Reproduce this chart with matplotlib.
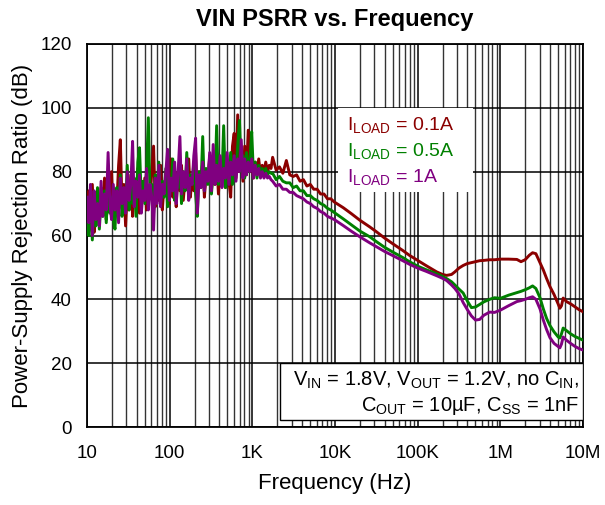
import matplotlib
matplotlib.use("Agg")
import matplotlib.pyplot as plt
from matplotlib.ticker import LogLocator, FixedLocator, NullFormatter, FixedFormatter
from matplotlib.patches import Rectangle

plt.rcParams['font.family'] = ['Liberation Sans', 'DejaVu Sans']
plt.rcParams['mathtext.fontset'] = 'custom'
plt.rcParams['mathtext.rm'] = 'Liberation Sans'
plt.rcParams['mathtext.it'] = 'Liberation Sans'

# ---- data ----
# low-frequency (noisy) region, Hz
freq_low = [10, 10.5, 11.0, 11.6, 12.2, 12.8, 13.4, 14.1, 14.8, 15.5, 16.3, 17.1, 18.0, 18.9, 19.8,
            20.8, 21.8, 22.9, 24.1, 25.3, 26.5, 27.9, 29.3, 30.7, 32.3, 33.9, 35.6, 37.3, 39.2, 41.2,
            43.2, 45.4, 47.6, 50.0, 52.5, 55.2, 57.9, 60.8, 63.9, 67.0, 70.4, 73.9, 77.6, 81.5, 85.6,
            89.9, 94.4, 99.1, 104, 109, 115, 120, 126, 133, 139, 146, 154, 161, 170, 178,
            187, 196, 206, 216, 227, 239, 251, 263, 276, 290, 305, 320, 336, 353, 370,
            389, 408, 429, 450, 473, 496, 521, 547, 575, 603, 634, 665, 699, 734, 770,
            809, 849, 892, 936, 983, 1032, 1084, 1138, 1195, 1255, 1318, 1384, 1453, 1526, 1602, 1682]
# mid region 1.7K..10K and high region, Hz
freq_high = [1760, 1940, 2130, 2340, 2580, 2840, 3120, 3430, 3780, 4150, 4570, 5030, 5530, 6080,
             6690, 7360, 8100, 8900, 9800,
             12600, 15850, 19950, 26300, 31600, 39800, 50100, 66100, 79400, 100000, 125900,
             169800, 199500, 223900, 257000, 281800, 316200, 354800, 398100, 446700, 501200,
             562300, 631000, 741300, 851100, 1000000, 1259000, 1585000, 1778000, 1995000,
             2239000, 2455000, 2692000, 3020000, 3311000, 3631000, 3981000, 4467000, 5012000,
             5248000, 5495000, 5754000, 6310000, 7079000, 7943000, 8913000, 10000000]

psrr_01A_low = [62, 74, 66, 76, 61, 70, 73, 64, 75, 67, 78, 65, 72, 68, 80, 66, 74, 69, 82, 90,
                70, 76, 63, 74, 68, 79, 66, 75, 70, 81, 67, 76, 71, 78, 68, 75, 72, 80, 88, 69,
                77, 71, 82, 68, 76, 73, 79, 70, 84, 72, 77, 69, 80, 74, 82, 71, 78, 75, 84, 72,
                79, 74, 86, 73, 80, 76, 83, 72, 79, 77, 85, 74, 81, 76, 84, 73, 82, 78, 86, 75,
                83, 77, 72, 88, 92, 78, 97.8, 80, 85, 77, 88, 79, 93, 80, 85, 78, 83, 80, 84, 79,
                82, 80, 83, 80, 82, 81]
psrr_01A_high = [84.5, 80.5, 81.5, 79.5, 83.5, 79, 78.5, 79, 77, 77.5, 75.5, 76, 74.5, 74.5,
                 73, 73, 71.5, 71.5, 70.5,
                 68.7, 66.8, 64.8, 62.7, 61.2, 59.2, 57.4, 55.3, 53.8, 52.2, 50.6,
                 48.6, 47.8, 47.5, 47.8, 48.6, 49.8, 50.6, 51.2, 51.5, 51.8,
                 52.1, 52.2, 52.4, 52.4, 52.6, 52.6, 52.5, 51.8, 52.4,
                 53.8, 54.6, 54.3, 51.5, 49.2, 46.5, 44, 41.5, 38.5,
                 37.2, 38, 40.4, 39.3, 38.6, 37.7, 36.8, 36.1]

psrr_05A_low = [66, 60, 72, 58.6, 70, 63, 75, 62, 71, 66, 74, 64, 77, 67, 72, 65, 62, 75, 68, 79,
                66, 73, 69, 82, 68, 75, 70, 78, 66, 83, 87.5, 71, 77, 70, 80, 96.9, 72, 76, 67, 79,
                73, 83, 70, 77, 72, 81, 69, 78, 74, 84, 71, 79, 75, 82, 70, 80, 74, 86, 72, 79,
                76, 83, 73, 66, 80, 75, 91, 74, 81, 76, 84, 73, 80, 77, 94.4, 76, 82, 78, 94.4, 75,
                83, 78, 86, 76, 84, 79, 88, 96, 80, 85, 78, 86, 80, 84, 92.5, 79, 83, 78, 82, 80,
                81, 79, 81, 79, 80, 79.5]
psrr_05A_high = [79.5, 77.5, 78.5, 77, 76.5, 76.5, 75, 75.5, 74, 74, 72.5, 72.5, 71.5, 71,
                 70, 69.5, 68.5, 68, 67.2,
                 65.2, 63.3, 61.4, 59.6, 58.1, 56.3, 54.8, 53.1, 51.8, 50.4, 49.3,
                 48, 47.2, 46.5, 45.5, 44.5, 43.2, 42, 39.5, 37.4, 37.6,
                 38.4, 39.2, 40, 40.5, 40.3, 41.3, 42.1, 42.5, 43,
                 43.6, 44.2, 43.4, 40.5, 37, 34, 31.8, 29.8, 28.2,
                 27.9, 29.2, 31, 30.2, 29.2, 28.4, 27.8, 27.2]

psrr_1A_low = [72, 64, 76, 60, 74, 65, 70, 63, 77, 66, 73, 68, 86, 70, 65, 76, 68, 74, 64, 78,
               70, 75, 67, 80, 71, 76, 89.5, 69, 77, 72, 79, 67, 74, 71, 81, 68, 76, 72, 61.7, 78,
               70, 82, 69, 76, 73, 80, 87, 71, 78, 74, 83, 70, 79, 91, 73, 80, 75, 84, 71, 78,
               76, 85, 90.5, 67, 79, 75, 83, 74, 80, 77, 86, 74, 88.5, 76, 82, 77, 85, 75, 81, 78,
               86, 76, 83, 79, 85, 77, 84, 80, 90, 78, 84, 79, 83, 80, 84, 78, 82, 79, 81, 78,
               80, 78, 79.5, 78, 78.5, 77.5]
psrr_1A_high = [77, 75.5, 76, 74.5, 74.5, 73.5, 73.5, 72.5, 72, 71.5, 70.5, 70, 69, 68.5,
                67.5, 67, 66, 65.5, 65,
                63.1, 61.3, 59.6, 57.7, 56.5, 55, 53.7, 52.1, 51, 49.8, 48.8,
                47.4, 46.6, 45.9, 44.5, 43.4, 41.7, 39, 36.8, 34.8, 33.5,
                33.7, 35, 36, 35.9, 36.6, 38, 39.3, 39.6, 40,
                40.5, 40.8, 40, 37, 33.5, 30.5, 28, 26.2, 25.2,
                24.8, 26, 28.2, 27.2, 26.2, 25.3, 24.6, 24.1]

series_labels = [r"I$_{\mathrm{LOAD}}$ = 0.1A", r"I$_{\mathrm{LOAD}}$ = 0.5A", r"I$_{\mathrm{LOAD}}$ = 1A"]
series_colors = ["#8B0000", "#008000", "#800080"]

x_ticks = [10, 100, 1e3, 1e4, 1e5, 1e6, 1e7]
x_ticklabels = ["10", "100", "1K", "10K", "100K", "1M", "10M"]
y_ticks = [0, 20, 40, 60, 80, 100, 120]

# ---- figure ----
fig = plt.figure(figsize=(6.05, 5.05), dpi=100)
ax = fig.add_axes([87/605, 1-427/505, (583-87)/605, (427-44)/505])

freq_all = freq_low + freq_high
data = [psrr_01A_low + psrr_01A_high, psrr_05A_low + psrr_05A_high, psrr_1A_low + psrr_1A_high]
for vals, col in zip(data, series_colors):
    ax.plot(freq_all, vals, color=col, lw=2.1, solid_joinstyle='round', zorder=3)

ax.set_xscale('log')
ax.set_xlim(10, 1e7)
ax.set_ylim(0, 120)
ax.xaxis.set_major_locator(FixedLocator(x_ticks))
ax.xaxis.set_major_formatter(FixedFormatter(x_ticklabels))
ax.xaxis.set_minor_locator(LogLocator(base=10, subs=range(2, 10), numticks=20))
ax.xaxis.set_minor_formatter(NullFormatter())
ax.set_yticks(y_ticks)
ax.tick_params(which='both', length=0, labelsize=13.5)
ax.tick_params(axis='x', pad=13)
ax.tick_params(axis='y', pad=11)
ax.grid(which='major', axis='both', color='black', lw=1.1, zorder=1)
ax.grid(which='minor', axis='x', color='#333333', lw=1.0, zorder=1)
ax.set_axisbelow(True)
for sp in ax.spines.values():
    sp.set_linewidth(1.3)

ax.set_title("VIN PSRR vs. Frequency", fontsize=17, fontweight='bold', pad=13)
ax.set_xlabel("Frequency (Hz)", fontsize=16, labelpad=8)
ax.set_ylabel("Power-Supply Rejection Ratio (dB)", fontsize=16, labelpad=5)

# legend-like colored text block
ax.add_patch(Rectangle(((338-87)/496, (427-192)/383), (473-338)/496, (192-108)/383,
                       transform=ax.transAxes, facecolor='white', edgecolor='none', zorder=5))
legend_y = [125, 151, 177]
for lab, col, yp in zip(series_labels, series_colors, legend_y):
    ax.text((347-87)/496, (427-yp)/383, lab, color=col, fontsize=14, transform=ax.transAxes,
            va='center', ha='left', zorder=6)

# conditions box
ax.add_patch(Rectangle(((280-87)/496, (427-420)/383), (583-280)/496, (420-363)/383,
                       transform=ax.transAxes, facecolor='white', edgecolor='black', lw=1.0, zorder=5))
ax.text((579-87)/496, (427-380)/383,
        r"V$_{\mathrm{IN}}$ = 1.8V, V$_{\mathrm{OUT}}$ = 1.2V, no C$_{\mathrm{IN}}$,",
        transform=ax.transAxes, ha='right', va='center', fontsize=14.5, zorder=6)
ax.text((579-87)/496, (427-406)/383, r"C$_{\mathrm{OUT}}$ = 10µF, C$_{\mathrm{SS}}$ = 1nF",
        transform=ax.transAxes, ha='right', va='center', fontsize=14.5, zorder=6)

fig.savefig("out.png", dpi=100)
